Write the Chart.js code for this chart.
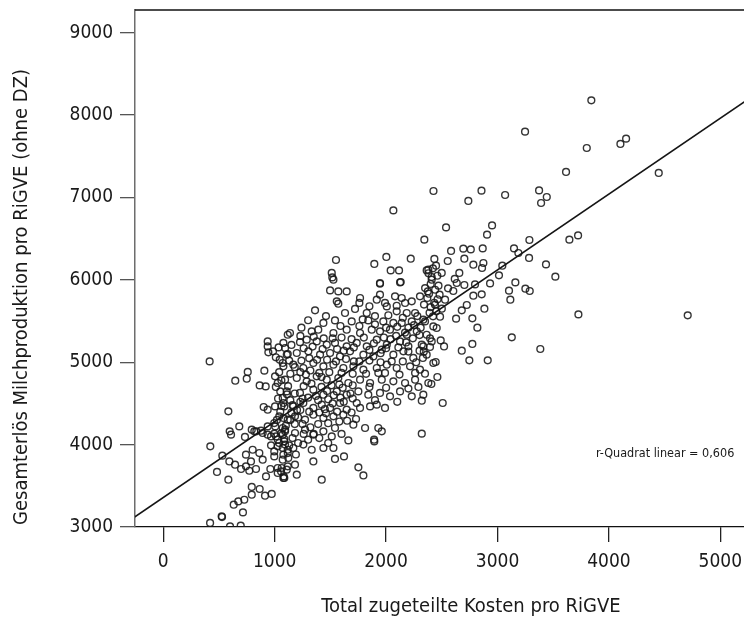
<!DOCTYPE html>
<html>
<head>
<meta charset="utf-8">
<script src="https://cdn.jsdelivr.net/npm/chart.js@4/dist/chart.umd.min.js"></script>
<style>
  html, body { margin: 0; padding: 0; background: #fff; overflow: hidden; }
  #wrap { width: 770px; height: 619px; }
</style>
</head>
<body>
<div id="wrap"><canvas id="milchChart" width="770" height="619"></canvas></div>
<script>
  "use strict";

  // ── Daten ──────────────────────────────────────────────
  const xTicks = [0, 1000, 2000, 3000, 4000, 5000];
  const xTickLabels = ["0", "1000", "2000", "3000", "4000", "5000"];
  const yTicks = [3000, 4000, 5000, 6000, 7000, 8000, 9000];
  const yTickLabels = ["3000", "4000", "5000", "6000", "7000", "8000", "9000"];

  const xTitle = "Total zugeteilte Kosten pro RiGVE";
  const yTitle = "Gesamterlös Milchproduktion pro RiGVE (ohne DZ)";
  const rQuadratText = "r-Quadrat linear = 0,606";

  const regX = [-300, 5300];
  const regY = [3082, 8239];

  // Betriebe: [Kosten, Erlös]
  const betriebe = [
    [3842, 8179], [3247, 7799], [3801, 7601], [3615, 7310], [4103, 7650], [4154, 7714],
    [4447, 7298], [3645, 6488], [3723, 6540], [3726, 5581], [4707, 5569], [3519, 6039],
    [2425, 7079], [2856, 7083], [2738, 6958], [3068, 7030], [3373, 7086], [3442, 7006],
    [3391, 6933], [2538, 6637], [2951, 6661], [2906, 6549], [2343, 6488], [2583, 6351],
    [2693, 6379], [2760, 6370], [2867, 6382], [3286, 6484], [3148, 6382], [3187, 6326],
    [2433, 6254], [2553, 6229], [2702, 6257], [2873, 6205], [3283, 6266], [2379, 6124],
    [2448, 6172], [2499, 6084], [2783, 6184], [2861, 6144], [3043, 6172], [3435, 6188],
    [2657, 6084], [3013, 6055], [2409, 6035], [2616, 6011], [2634, 5962], [2702, 5938],
    [2798, 5945], [2933, 5957], [3160, 5969], [3250, 5893], [3289, 5865], [3103, 5869],
    [2556, 5897], [2603, 5865], [2374, 5860], [2783, 5808], [2858, 5824],
    [3115, 5759], [2724, 5695], [2882, 5650], [2679, 5630], [2628, 5529], [2774, 5533],
    [2819, 5420], [2529, 5759], [2484, 5553], [2424, 5435], [3128, 5302], [3384, 5161],
    [2774, 5222], [2679, 5140], [2747, 5023], [2912, 5023], [2490, 5265], [2520, 5192],
    [2394, 5290], [2445, 5003], [2349, 4861], [2460, 4821], [2406, 4736], [2508, 4505],
    [2320, 4533], [2320, 4133], [2334, 5192], [2338, 5128], [2330, 5052], [2394, 5185],
    [2340, 5700], [2400, 5668], [2432, 5722], [2462, 5765], [2349, 5496], [2421, 5557],
    [2065, 6843], [1550, 6241], [1512, 6084], [1517, 6030], [1894, 6193], [2002, 6278],
    [2221, 6257], [2041, 6115], [2116, 6115], [1945, 5962], [2131, 5974], [2364, 6115],
    [416, 5010], [584, 4404], [422, 3979], [482, 3668], [584, 3574], [524, 3129],
    [715, 3177], [632, 3271], [673, 3311], [727, 3331], [794, 3486], [865, 3461],
    [794, 3392], [913, 3380], [973, 3401], [596, 4161], [608, 4121], [682, 4221],
    [733, 4093], [794, 4181], [835, 4161], [877, 4169], [530, 3866], [593, 3796],
    [644, 3756], [698, 3704], [742, 3736], [772, 3683], [646, 4776], [749, 4800],
    [758, 4882], [907, 4898], [865, 4719], [919, 4707], [937, 5253], [937, 5192],
    [943, 5120], [985, 5132], [1117, 5334], [1093, 5173], [1117, 5100], [1045, 5031],
    [1072, 4991], [901, 4457], [937, 4424], [817, 4161], [892, 4141], [937, 4121],
    [996, 4133], [1072, 4121], [742, 3878], [802, 3938], [862, 3898], [892, 3817],
    [787, 3796], [832, 3704], [922, 3614], [961, 3704], [1027, 3716], [1081, 3614],
    [1057, 3675], [967, 3991], [1027, 3979], [996, 3918], [1072, 3959], [1117, 3898],
    [937, 4221], [1005, 4221], [1093, 4161], [967, 4100], [1027, 4060], [1086, 4068],
    [1003, 4829], [1027, 4748], [1050, 4646], [1072, 4566], [1003, 4464], [1086, 4464],
    [1041, 4343], [1117, 4303], [996, 4262], [1072, 4202], [1012, 4100], [1086, 4040],
    [1117, 3938], [996, 3857], [1072, 3817], [1117, 3736], [1027, 3656], [1086, 3595],
    [420, 3049], [527, 3121], [599, 3007], [695, 3016], [1422, 3574],
    [1527, 6002], [1945, 5953], [2125, 5969], [2409, 6002],
    [1497, 5872], [1571, 5860], [1646, 5860],
    [1766, 5780], [1945, 5820], [2080, 5800], [2170, 5719], [2230, 5739], [2304, 5800], [2385, 5832],
    [1557, 5739], [1571, 5711], [1721, 5647], [1916, 5759], [2006, 5678], [2095, 5686],
    [1362, 5630], [1631, 5598], [1826, 5598], [2095, 5618], [2185, 5598], [2260, 5598], [2439, 5699],
    [1437, 5477], [1541, 5508], [1691, 5496], [1840, 5508], [1975, 5496], [2065, 5477],
    [2140, 5477], [2230, 5496], [2334, 5517],
    [1137, 5355], [1332, 5375], [1391, 5395], [1527, 5355], [1646, 5395], [1766, 5355],
    [1871, 5395], [1945, 5375], [2035, 5395], [2185, 5334], [2275, 5375], [2364, 5334], [2454, 5416],
    [1078, 5234], [1227, 5244], [1287, 5274], [1377, 5253], [1467, 5213], [1541, 5234],
    [1646, 5193], [1736, 5234], [1826, 5193], [1916, 5274], [2006, 5213], [2125, 5253],
    [2200, 5193], [2320, 5213], [2409, 5253],
    [1108, 5092], [1198, 5112], [1302, 5132], [1407, 5092], [1497, 5112], [1586, 5071],
    [1676, 5132], [1796, 5092], [1885, 5071], [1961, 5152], [2065, 5092], [2155, 5132],
    [2244, 5052], [2364, 5092],
    [1078, 4950], [1167, 4970], [1257, 4930], [1347, 4991], [1437, 4950], [1527, 4970],
    [1616, 4930], [1706, 4950], [1796, 4910], [1916, 4930], [2006, 4970], [2095, 4930],
    [2215, 4950], [2304, 4910], [2424, 4991],
    [1093, 4788], [1198, 4809], [1287, 4768], [1377, 4829], [1467, 4788], [1571, 4809],
    [1661, 4748], [1766, 4788], [1856, 4748], [1961, 4788], [2065, 4768], [2170, 4748],
    [2260, 4788], [2379, 4748],
    [1108, 4646], [1227, 4627], [1347, 4667], [1437, 4606], [1557, 4646], [1646, 4606],
    [1751, 4646], [1840, 4606], [1945, 4627], [2035, 4586], [2125, 4646], [2230, 4586], [2334, 4606],
    [1078, 4505], [1167, 4464], [1257, 4505], [1347, 4445], [1422, 4485], [1497, 4445],
    [1586, 4505], [1646, 4424], [1736, 4505], [1766, 4445], [1856, 4464], [1916, 4485], [1990, 4445],
    [1078, 4323], [1182, 4343], [1272, 4303], [1347, 4363], [1437, 4323], [1527, 4343],
    [1616, 4363], [1706, 4242], [1730, 4311], [1811, 4202], [1930, 4202], [1961, 4161],
    [1093, 4181], [1182, 4141], [1272, 4181], [1347, 4121], [1437, 4161], [1512, 4100], [1541, 4202],
    [1661, 4051], [1894, 4039], [1892, 4060],
    [1093, 4000], [1167, 3959], [1257, 4000], [1332, 3938], [1437, 3959], [1527, 3959],
    [1347, 3796], [1541, 3826], [1622, 3857],
    [1078, 3878], [1122, 3838], [1063, 3716], [1108, 3696], [1182, 3756], [1198, 3635], [1078, 3595],
    [1751, 3724], [1796, 3626],
    // dichter Kern
    [1035, 5180], [1150, 5210], [1010, 5060], [1130, 5020], [1180, 4940], [1040, 4880],
    [1140, 4860], [1010, 4700], [1120, 4710], [1180, 4620], [1030, 4560], [1140, 4540],
    [1200, 4420], [1050, 4400], [1150, 4390], [1020, 4300], [1180, 4250], [1100, 4230],
    [1060, 4140], [1160, 4080], [1210, 4020], [1040, 4020], [1130, 3990], [1190, 3880],
    [1240, 5420], [1300, 5510], [1460, 5560], [1590, 5440], [1230, 5320], [1350, 5310],
    [1440, 5290], [1520, 5290], [1600, 5300], [1690, 5280], [1260, 5170], [1340, 5190],
    [1430, 5160], [1560, 5160], [1620, 5140], [1710, 5180], [1240, 5020], [1310, 5050],
    [1380, 5030], [1470, 5030], [1550, 5010], [1640, 5040], [1710, 5010], [1230, 4880],
    [1320, 4900], [1400, 4870], [1490, 4880], [1600, 4870], [1700, 4860], [1260, 4710],
    [1330, 4740], [1420, 4700], [1510, 4720], [1610, 4690], [1700, 4720], [1250, 4560],
    [1300, 4570], [1390, 4540], [1480, 4550], [1590, 4570], [1700, 4560], [1230, 4420],
    [1310, 4400], [1400, 4390], [1460, 4380], [1560, 4400], [1690, 4390], [1390, 4250],
    [1480, 4260], [1580, 4280], [1650, 4290], [1250, 4250], [1300, 4060], [1400, 4080],
    [1480, 4020], [1600, 4130],
    [1060, 4780], [1110, 4610], [1160, 4480], [1210, 4330], [1260, 4130], [1320, 4210],
    [1370, 4590], [1420, 4820], [1470, 4650], [1520, 4500], [1060, 4470], [1140, 4300],
    [1230, 4520], [1280, 4850], [1350, 4130], [1450, 4430], [1530, 4600], [1580, 4730],
    [1620, 4520], [1680, 4620],
    [1760, 5720], [1850, 5680], [1990, 5720], [2140, 5780], [1790, 5520], [1900, 5560],
    [2020, 5570], [2150, 5540], [2280, 5560], [1760, 5440], [1900, 5460], [2000, 5420],
    [2100, 5430], [2200, 5420], [2310, 5420], [1800, 5300], [1980, 5300], [2090, 5320],
    [2240, 5290], [1850, 5150], [2000, 5170], [2200, 5130], [2300, 5140], [1760, 5010],
    [1850, 5020], [1950, 5000], [2150, 5010], [2270, 5000], [1820, 4860], [1990, 4870],
    [2120, 4850], [2260, 4870], [1850, 4700], [2000, 4690], [2200, 4680], [2290, 4700],
    [1900, 4540], [2100, 4520],
    [1890, 5230], [1950, 5110], [2040, 5280], [2110, 5180], [2170, 5360], [2250, 5450],
    [2300, 5330], [2180, 5240], [2050, 5010], [1930, 4870],
    [2380, 6080], [2420, 6140], [2460, 6050], [2400, 5950], [2470, 5930], [2350, 5900],
    [2440, 5880], [2370, 5780], [2480, 5820], [2450, 5620], [2390, 5600], [2500, 5650]
  ];

  const FONT = "'DejaVu Sans Condensed', 'DejaVu Sans', sans-serif";
  const TEXT_COLOR = "#1a1a1a";

  // ── Rahmen, Achsentitel, r² ────────────────────────────
  const beschriftung = {
    id: "beschriftung",
    afterDraw(chart) {
      const c = chart.ctx;
      const a = chart.chartArea;
      c.save();
      // obere Rahmenlinie
      c.strokeStyle = "#111";
      c.lineWidth = 1.3;
      c.beginPath();
      c.moveTo(a.left, a.top);
      c.lineTo(a.right + 20, a.top);
      c.stroke();

      c.fillStyle = TEXT_COLOR;
      c.font = "20px " + FONT;
      c.textAlign = "center";
      c.textBaseline = "middle";
      c.fillText(xTitle, 471, 607);

      c.save();
      c.translate(22, 297);
      c.rotate(-Math.PI / 2);
      c.fillText(yTitle, 0, 0);
      c.restore();

      const sx = chart.scales.x;
      const sy = chart.scales.y;
      c.font = "12.5px " + FONT;
      c.fillText(rQuadratText, sx.getPixelForValue(4504), sy.getPixelForValue(3890));
      c.restore();
    },
  };

  new Chart(document.getElementById("milchChart"), {
    type: "scatter",
    data: {
      datasets: [
        {
          type: "line",
          data: regX.map((x, i) => ({ x: x, y: regY[i] })),
          borderColor: "#151515",
          borderWidth: 1.5,
          pointRadius: 0,
          fill: false,
        },
        {
          data: betriebe.map((p) => ({ x: p[0], y: p[1] })),
          pointRadius: 3.4,
          pointBorderWidth: 1.4,
          borderColor: "rgba(25,25,25,0.88)",
          backgroundColor: "rgba(0,0,0,0)",
        },
      ],
    },
    options: {
      responsive: false,
      animation: false,
      devicePixelRatio: 1,
      layout: { padding: { top: 10, right: 16, left: 0, bottom: 0 } },
      plugins: { legend: { display: false }, tooltip: { enabled: false } },
      scales: {
        x: {
          type: "linear",
          min: -254,
          max: 5302,
          afterBuildTicks: (s) => { s.ticks = xTicks.map((v) => ({ value: v })); },
          afterFit: (s) => { s.height = 92; s.paddingLeft = 0; s.paddingRight = 0; },
          grid: { drawOnChartArea: false, tickLength: 15, tickColor: "#222", lineWidth: 1.3 },
          border: { color: "#111", width: 1.3 },
          ticks: {
            font: { family: FONT, size: 19 },
            color: TEXT_COLOR,
            padding: 9,
            maxRotation: 0,
            callback: (v, i) => xTickLabels[i],
          },
        },
        y: {
          type: "linear",
          min: 3000,
          max: 9276,
          afterBuildTicks: (s) => { s.ticks = yTicks.map((v) => ({ value: v })); },
          afterFit: (s) => { s.width = 135; s.paddingTop = 0; s.paddingBottom = 0; },
          grid: { drawOnChartArea: false, tickLength: 15, tickColor: "#555", lineWidth: 1.3 },
          border: { color: "#6d6d6d", width: 1.5 },
          ticks: {
            font: { family: FONT, size: 19 },
            color: TEXT_COLOR,
            padding: 7,
            callback: (v, i) => yTickLabels[i],
          },
        },
      },
    },
    plugins: [beschriftung],
  });
</script>
</body>
</html>
